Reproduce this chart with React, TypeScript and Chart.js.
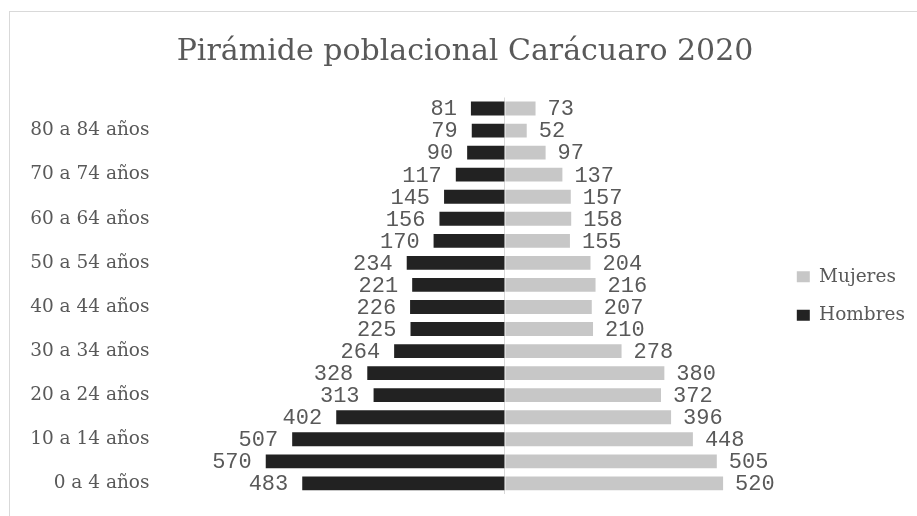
import React, { useEffect, useRef } from "react";
import { Chart, registerables } from "chart.js";

Chart.register(...registerables);

const titleText = "Pirámide poblacional Carácuaro 2020";

const categories = [
  "0 a 4 años",
  "5 a 9 años",
  "10 a 14 años",
  "15 a 19 años",
  "20 a 24 años",
  "25 a 29 años",
  "30 a 34 años",
  "35 a 39 años",
  "40 a 44 años",
  "45 a 49 años",
  "50 a 54 años",
  "55 a 59 años",
  "60 a 64 años",
  "65 a 69 años",
  "70 a 74 años",
  "75 a 79 años",
  "80 a 84 años",
  "85 años y más",
];

const hombres = [483, 570, 507, 402, 313, 328, 264, 225, 226, 221, 234, 170, 156, 145, 117, 90, 79, 81];
const mujeres = [520, 505, 448, 396, 372, 380, 278, 210, 207, 216, 204, 155, 158, 157, 137, 97, 52, 73];

const seriesNames = ["Mujeres", "Hombres"];

const TEXT = "#595959";
const SERIF = '"DejaVu Serif", serif';

const barLabels = {
  id: "barLabels",
  afterDatasetsDraw(chart: any) {
    const ctx = chart.ctx;
    ctx.save();
    ctx.font = '22px "Liberation Mono", monospace';
    ctx.fillStyle = TEXT;
    ctx.textBaseline = "middle";
    chart.data.datasets.forEach((ds: any, i: number) => {
      const meta = chart.getDatasetMeta(i);
      meta.data.forEach((bar: any, j: number) => {
        const v = ds.data[j];
        const neg = v < 0;
        ctx.textAlign = neg ? "right" : "left";
        ctx.fillText(String(Math.abs(v)), bar.x + (neg ? -14 : 12), bar.y + 1);
      });
    });
    ctx.restore();
  },
};

export default function App() {
  const ref = useRef<HTMLCanvasElement | null>(null);

  useEffect(() => {
    if (!ref.current) return;
    const chart = new Chart(ref.current, {
      type: "bar",
      data: {
        labels: categories,
        datasets: [
          {
            label: seriesNames[0],
            data: mujeres,
            backgroundColor: "#c7c7c7",
            borderWidth: 0,
            barPercentage: 0.63,
            categoryPercentage: 1,
          },
          {
            label: seriesNames[1],
            data: hombres.map((v) => -v),
            backgroundColor: "#222222",
            borderWidth: 0,
            barPercentage: 0.63,
            categoryPercentage: 1,
          },
        ],
      },
      options: {
        indexAxis: "y",
        responsive: false,
        animation: false,
        layout: { padding: { left: 15, right: 2, top: 0, bottom: 21 } },
        scales: {
          x: {
            stacked: true,
            min: -822,
            max: 648,
            border: { display: false },
            grid: {
              drawTicks: false,
              color: (c: any) => (c.tick && c.tick.value === 0 ? "#d9d9d9" : "rgba(0,0,0,0)"),
              lineWidth: 1,
            },
            ticks: { display: false },
            afterBuildTicks: (scale: any) => {
              scale.ticks = [{ value: 0 }];
            },
          },
          y: {
            stacked: true,
            reverse: true,
            border: { display: false },
            grid: { display: false, drawTicks: false },
            ticks: {
              autoSkip: false,
              padding: 10.5,
              color: TEXT,
              font: { family: SERIF, size: 18.5 },
              callback: (_v: any, i: number) => (i % 2 === 0 ? categories[i] : ""),
            },
            afterFit: (scale: any) => {
              scale.width = 145;
            },
          },
        },
        plugins: {
          title: {
            display: true,
            text: titleText,
            color: TEXT,
            font: { family: SERIF, size: 30, weight: "normal" },
            padding: { top: 34, bottom: 27.5 },
          },
          legend: {
            position: "right",
            fullSize: false,
            labels: {
              boxWidth: 13,
              boxHeight: 11,
              padding: 20,
              color: TEXT,
              font: { family: SERIF, size: 18.5 },
            },
          },
          tooltip: { enabled: false },
        },
      },
      plugins: [barLabels],
    });
    return () => chart.destroy();
  }, []);

  return (
    <div style={{ position: "fixed", left: 0, top: 0, width: 917, height: 516, background: "#fff" }}>
      <div
        style={{
          position: "absolute",
          left: 9,
          top: 11,
          width: 930,
          height: 520,
          borderLeft: "1px solid #d9d9d9",
          borderTop: "1px solid #d9d9d9",
        }}
      />
      <canvas ref={ref} width={917} height={516} style={{ position: "absolute", left: 0, top: 0 }} />
    </div>
  );
}
